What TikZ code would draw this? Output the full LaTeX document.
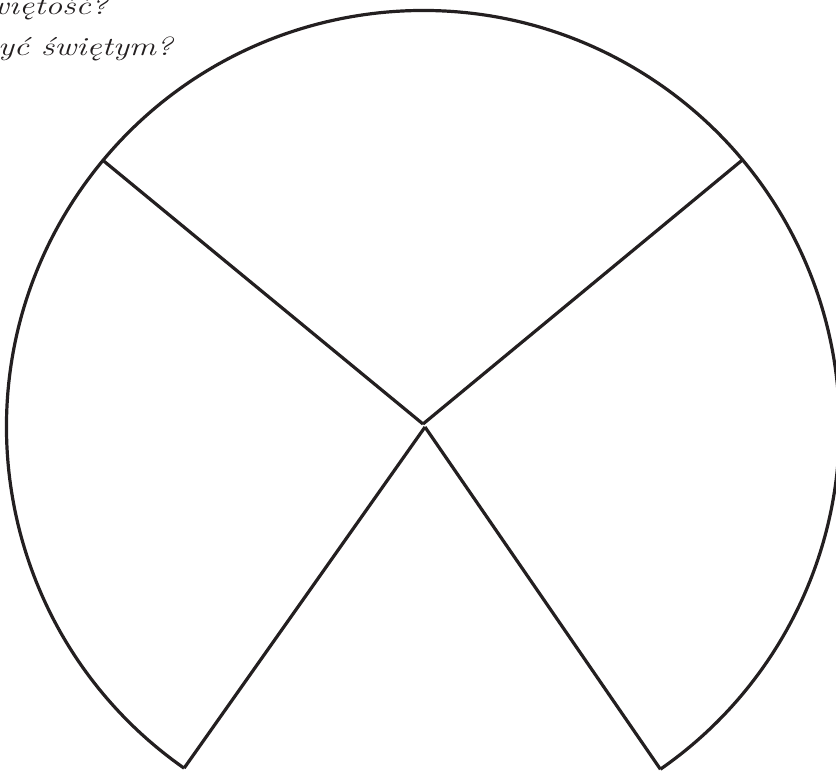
\documentclass[tikz,border=0pt]{standalone}
\usepackage{fontspec}
\usetikzlibrary{calc}
\definecolor{ink}{HTML}{231F20}
\newcommand{\qtext}[1]{\scalebox{1.3}[1]{\itshape #1}}
\begin{document}
\begin{tikzpicture}[x=1pt,y=-1pt,
  edge/.style={draw=ink,line width=3.2pt,line join=round},
  question/.style={font=\fontsize{26}{31}\selectfont,text=ink,inner sep=0pt,anchor=base east}]
\useasboundingbox (0,0) rectangle (836,771);
\coordinate (O) at (423,427);
\coordinate (c1) at (423,424);
\coordinate (c2) at (425,427);
\coordinate (UL) at ($(O)+(219.8:416.5)$);
\coordinate (UR) at ($(O)+(320.1:416.5)$);
\coordinate (BL) at ($(O)+(125:416.5)$);
\coordinate (BR) at ($(O)+(55.25:416.5)$);
\draw[edge] (BL) arc[start angle=125,end angle=415.25,radius=416.5];
\draw[edge] (c1) -- (UL);
\draw[edge] (c1) -- (UR);
\draw[edge] (c2) -- (BL);
\draw[edge] (c2) -- (BR);
\node[question] (q1) at (108,14) {\qtext{więtość?}};
\node[question] (q2) at (173,55) {\qtext{yć świętym?}};
\end{tikzpicture}
\end{document}
